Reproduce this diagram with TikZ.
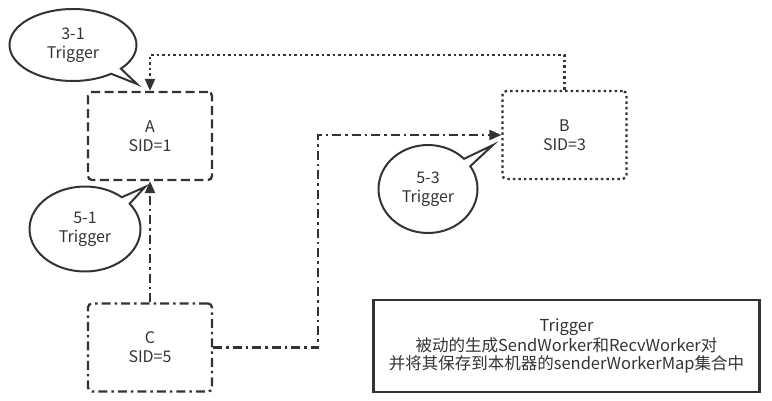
\documentclass[tikz,border=0pt]{standalone}
\usepackage{fontspec}
\setmainfont{Noto Sans CJK SC}
\usetikzlibrary{arrows.meta,shapes.callouts,shapes.geometric}
\definecolor{ink}{HTML}{333333}
\begin{document}
\begin{tikzpicture}[x=1pt,y=-1pt,
  every node/.style={font=\fontsize{16}{19}\selectfont, text=ink, align=center},
  box/.style={draw=ink, line width=2.3pt, rounded corners=4pt, minimum width=124pt, minimum height=88pt, inner sep=0pt},
  dashbox/.style={box, dash pattern=on 9pt off 4.5pt},
  dotbox/.style={box, dash pattern=on 2.5pt off 3pt},
  dashdotbox/.style={box, dash pattern=on 9pt off 4pt on 2.5pt off 4pt},
  link/.style={draw=ink, line width=2.3pt, -{Triangle[length=12pt,width=10pt]}},
  dotlink/.style={link, dash pattern=on 2.5pt off 3pt},
  dashdotlink/.style={link, dash pattern=on 9pt off 4pt on 2.5pt off 4pt},
  bubble/.style={ellipse callout, draw=ink, line width=2pt, fill=white, inner sep=0pt, callout pointer arc=12},
  legend/.style={draw=ink, line width=2.3pt, minimum width=386pt, minimum height=92pt, inner sep=0pt}
]
\useasboundingbox (0,0) rectangle (772,400);

\node[dashbox] (A) at (150,136) {A\\SID=1};
\node[dotbox] (B) at (564.5,135) {B\\SID=3};
\node[dashdotbox] (C) at (150,347.5) {C\\SID=5};

\coordinate (t1) at (564.5,55);
\coordinate (t2) at (150,55);
\coordinate (m) at (318,0);

\draw[dotlink] (B.north) -- (t1) -- (t2) -- (A.north);
\draw[dashdotlink] (C.north) -- (A.south);
\draw[dashdotlink] (C.east) -| (m |- B.west) -- (B.west);

\node[bubble, minimum width=127pt, minimum height=72pt, callout absolute pointer={(137,84)}] (c31) at (73,45) {3-1\\Trigger};
\node[bubble, minimum width=111pt, minimum height=85pt, callout absolute pointer={(145,187)}] (c51) at (85,229) {5-1\\Trigger};
\node[bubble, minimum width=99pt, minimum height=88pt, callout absolute pointer={(493,145)}] (c53) at (428,189) {5-3\\Trigger};

\node[legend, font=\fontsize{16.5}{18}\selectfont] (L) at (566.5,346) {Trigger\\被动的生成SendWorker和RecvWorker对\\并将其保存到本机器的senderWorkerMap集合中};
\end{tikzpicture}
\end{document}
